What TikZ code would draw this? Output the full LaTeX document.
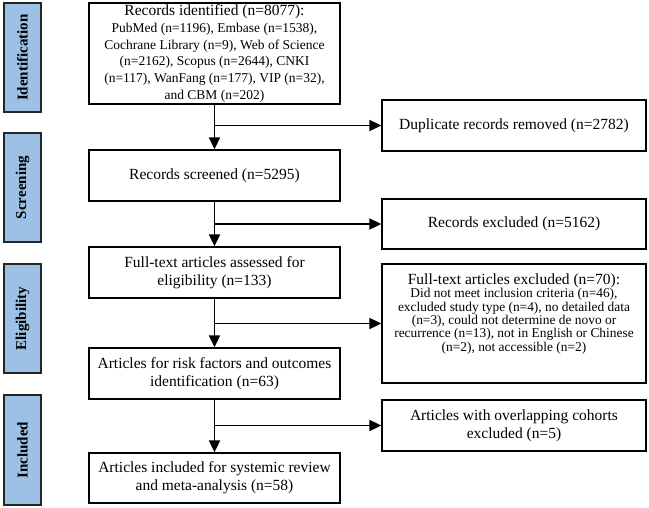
\documentclass[tikz,border=0pt]{standalone}
\usepackage{fontspec}
\setmainfont{Liberation Serif}
\usetikzlibrary{arrows.meta,calc}
\newcommand{\lw}{251pt}
\newcommand{\rw}{264pt}
\definecolor{stageblue}{RGB}{157,193,229}

\begin{document}
\begin{tikzpicture}[x=1pt,y=-1pt,
  box/.style={draw=black,line width=1.3pt,align=center,inner sep=2pt,font=\fontsize{15.5}{18.3}\selectfont},
  stage/.style={draw=black!85,line width=2pt,fill=stageblue,rotate=90,minimum width=109pt,minimum height=37pt,inner sep=0pt,font=\bfseries\fontsize{15}{18}\selectfont},
  flow/.style={line width=1.8pt,-{Triangle[length=12pt,width=11pt]}}]
\useasboundingbox (0,0) rectangle (649,507);
% stages
\node[stage] (sid) at (22.5,57.5) {Identification};
\node[stage] (sscr) at (22.5,187.5) {Screening};
\node[stage] (selig) at (22.5,318.5) {Eligibility};
\node[stage,minimum width=110pt] (sincl) at (22.5,450) {Included};
% main column
\node[box,minimum width=\lw,minimum height=101pt,font=\fontsize{13.5}{16.7}\selectfont] (ident) at (214.5,53.5) {{\fontsize{15.5}{16.7}\selectfont Records identified (n=8077):}\\PubMed (n=1196), Embase (n=1538),\\Cochrane Library (n=9), Web of Science\\(n=2162), Scopus (n=2644), CNKI\\(n=117), WanFang (n=177), VIP (n=32),\\and CBM (n=202)};
\node[box,minimum width=\lw,minimum height=51pt] (screen) at (214.5,175.5) {Records screened (n=5295)};
\node[box,minimum width=\lw,minimum height=51pt] (assess) at (214.5,272.5) {Full-text articles assessed for\\eligibility (n=133)};
\node[box,minimum width=\lw,minimum height=51pt] (riskf) at (214.5,373.5) {Articles for risk factors and outcomes\\identification (n=63)};
\node[box,minimum width=\lw,minimum height=50pt] (incl) at (214.5,478) {Articles included for systemic review\\and meta-analysis (n=58)};
% excluded column
\node[box,minimum width=\rw,minimum height=51pt] (dup) at (514,125.5) {Duplicate records removed (n=2782)};
\node[box,minimum width=\rw,minimum height=50pt] (recex) at (514,224) {Records excluded (n=5162)};
\node[box,minimum width=\rw,minimum height=119pt,text depth=22pt,font=\fontsize{13.4}{13.4}\selectfont] (ftex) at (514,323.5) {{\fontsize{15.5}{16}\selectfont Full-text articles excluded (n=70):}\\Did not meet inclusion criteria (n=46),\\excluded study type (n=4), no detailed data\\(n=3), could not determine de novo or\\recurrence (n=13), not in English or Chinese\\(n=2), not accessible (n=2)};
\node[box,minimum width=\rw,minimum height=51pt] (overlap) at (514,425.5) {Articles with overlapping cohorts\\excluded (n=5)};
% arrows
\foreach \a/\b/\c in {ident/screen/dup,screen/assess/recex,assess/riskf/ftex,riskf/incl/overlap}{
\draw[flow] (\a) -- (\b);
\draw[flow] (\a.south |- \c.west) -- (\c.west);
}
\end{tikzpicture}
\end{document}
